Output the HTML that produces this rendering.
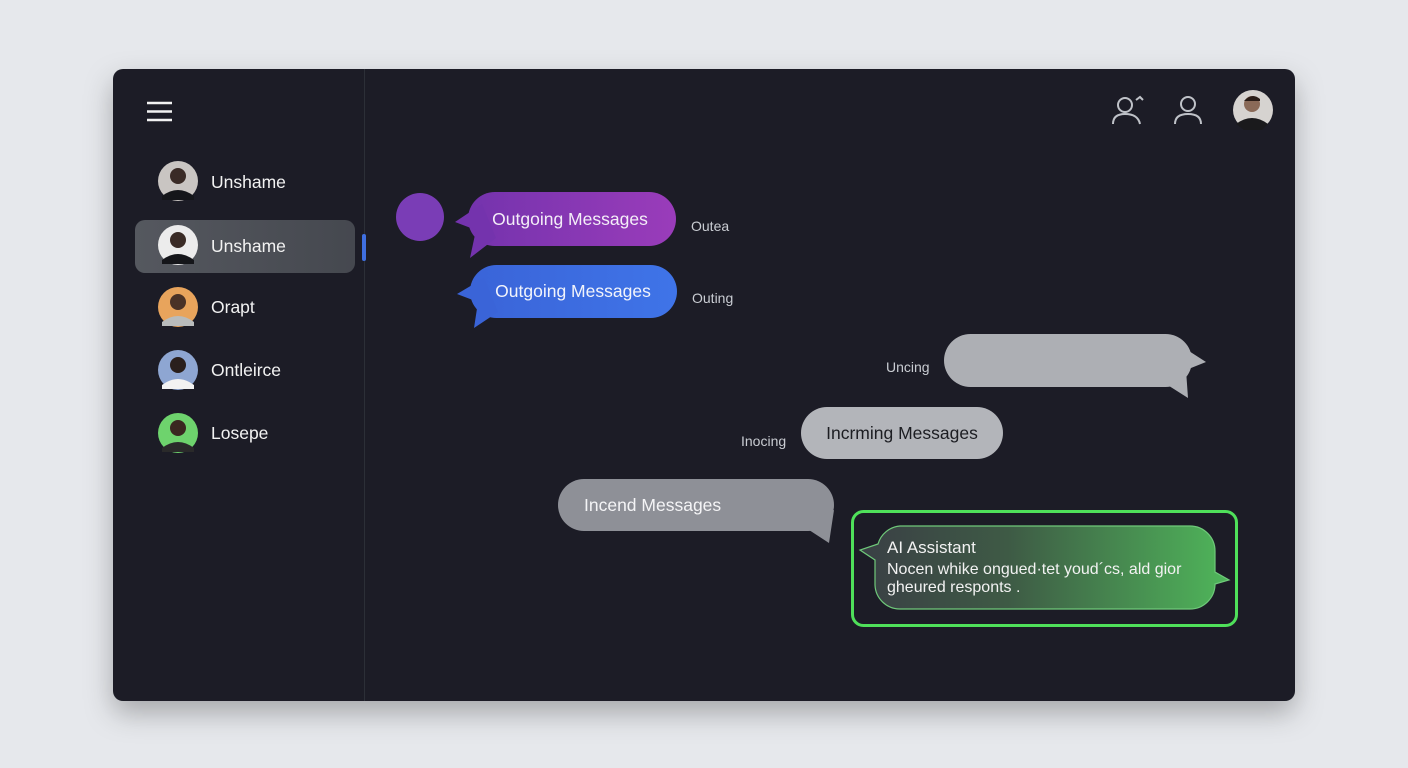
<!DOCTYPE html>
<html><head><meta charset="utf-8"><style>
html,body{margin:0;padding:0;width:1408px;height:768px;overflow:hidden;background:#e6e8ec;}
svg{display:block}
text{font-family:"Liberation Sans",sans-serif;}
</style></head><body>
<svg width="1408" height="768" viewBox="0 0 1408 768" xmlns="http://www.w3.org/2000/svg">
<defs>
<filter id="sh" x="-10%" y="-10%" width="120%" height="130%"><feDropShadow dx="0" dy="12" stdDeviation="14" flood-color="#000" flood-opacity="0.28"/></filter>
<linearGradient id="pg" x1="0" x2="1"><stop offset="0" stop-color="#7433ad"/><stop offset="1" stop-color="#9a3cba"/></linearGradient>
<linearGradient id="bg" x1="0" x2="1"><stop offset="0" stop-color="#3a64d8"/><stop offset="1" stop-color="#3f74e8"/></linearGradient>
<linearGradient id="gg" x1="0" x2="1"><stop offset="0" stop-color="#3a3f45"/><stop offset="0.4" stop-color="#3e5a45"/><stop offset="1" stop-color="#4fb65a"/></linearGradient>
<linearGradient id="side" x1="0" x2="1"><stop offset="0" stop-color="#55585f"/><stop offset="1" stop-color="#45484f"/></linearGradient>
</defs>
<rect x="113" y="69" width="1182" height="632" rx="10" fill="#1c1f27" filter="url(#sh)"/>
<line x1="364.5" y1="69" x2="364.5" y2="701" stroke="#2c2f37" stroke-width="1"/>
<g stroke="#f2f2f2" stroke-width="2.5"><line x1="147" y1="103" x2="172" y2="103"/><line x1="147" y1="111.5" x2="172" y2="111.5"/><line x1="147" y1="120" x2="172" y2="120"/></g>
<rect x="135" y="220" width="220" height="53" rx="10" fill="url(#side)"/>
<rect x="362" y="234" width="4" height="27" rx="2" fill="#3f6fe0"/>
<g>
<circle cx="178" cy="181" r="20" fill="#c9c5c2"/><circle cx="178" cy="176" r="8" fill="#3a2b26"/><path d="M162 196 Q178 184 194 196 L194 200 L162 200Z" fill="#15161a"/>
<circle cx="178" cy="245" r="20" fill="#ececec"/><circle cx="178" cy="240" r="8" fill="#3a2b26"/><path d="M162 260 Q178 248 194 260 L194 264 L162 264Z" fill="#15161a"/>
<circle cx="178" cy="307" r="20" fill="#e8a45c"/><circle cx="178" cy="302" r="8" fill="#4a3226"/><path d="M162 322 Q178 310 194 322 L194 326 L162 326Z" fill="#b9bcbc"/>
<circle cx="178" cy="370" r="20" fill="#8ea6d2"/><circle cx="178" cy="365" r="8" fill="#2a1f1c"/><path d="M162 385 Q178 373 194 385 L194 389 L162 389Z" fill="#f2f2f2"/>
<circle cx="178" cy="433" r="20" fill="#6ed36d"/><circle cx="178" cy="428" r="8" fill="#3a2820"/><path d="M162 448 Q178 436 194 448 L194 452 L162 452Z" fill="#2a2a2a"/>
</g>
<g fill="#f2f2f2" font-size="17.5">
<text x="211" y="188">Unshame</text><text x="211" y="252">Unshame</text><text x="211" y="313">Orapt</text><text x="211" y="376">Ontleirce</text><text x="211" y="439">Losepe</text>
</g>
<g fill="none" stroke="#bfc2c8" stroke-width="2">
<circle cx="1125" cy="105" r="7"/><path d="M1113 124 Q1113 114 1125 114 Q1138 114 1140 124"/><path d="M1136 100 l4 -3 l3 3"/>
<circle cx="1188" cy="104" r="7"/><path d="M1175 124 Q1175 114 1188 114 Q1201 114 1201 124"/>
</g>
<circle cx="1253" cy="110" r="20" fill="#d6d3d0"/><circle cx="1252" cy="104" r="8" fill="#8a6a58"/><path d="M1244 101 Q1252 92 1260 99 L1260 101Z" fill="#2a1d18"/><path d="M1236 124 Q1252 112 1268 124 L1262 130 L1244 130Z" fill="#1a1a1c"/>
<!-- purple -->
<circle cx="420" cy="217" r="24" fill="#7a3db6"/>
<rect x="468" y="192" width="208" height="54" rx="27" fill="url(#pg)"/>
<polygon points="482,204 455,222 476,230 470,258 496,238" fill="#7433ad"/>
<text x="570" y="225" fill="#f4eef8" font-size="17.5" text-anchor="middle">Outgoing Messages</text>
<text x="691" y="231" fill="#c9ccd2" font-size="14">Outea</text>
<!-- blue -->
<rect x="470" y="265" width="207" height="53" rx="26.5" fill="url(#bg)"/>
<polygon points="484,278 457,294 478,302 474,328 498,312" fill="#3a64d8"/>
<text x="573" y="297" fill="#f2f4fb" font-size="17.5" text-anchor="middle">Outgoing Messages</text>
<text x="692" y="303" fill="#c9ccd2" font-size="14">Outing</text>
<!-- gray top right -->
<rect x="944" y="334" width="248" height="53" rx="26.5" fill="#adafb4"/>
<polygon points="1178,344 1206,362 1186,370 1188,398 1166,384" fill="#adafb4"/>
<text x="886" y="372" fill="#c9ccd2" font-size="14">Uncing</text>
<!-- incoming -->
<rect x="801" y="407" width="202" height="52" rx="26" fill="#b3b5ba"/>
<text x="902" y="439" fill="#1c1d22" font-size="17.5" text-anchor="middle">Incrming Messages</text>
<text x="741" y="446" fill="#c9ccd2" font-size="14">Inocing</text>
<!-- incend -->
<rect x="558" y="479" width="276" height="52" rx="26" fill="#8e9097"/>
<polygon points="816,518 834,510 829,543 806,528" fill="#8e9097"/>
<text x="584" y="511" fill="#f4f4f6" font-size="17.5">Incend Messages</text>
<!-- AI -->
<rect x="852.5" y="511.5" width="384" height="114" rx="11" fill="none" stroke="#4fe05a" stroke-width="3"/>
<path d="M900 526 H1190 A25 25 0 0 1 1215 551 V572 L1229 580 L1215 584 V585 A25 25 0 0 1 1190 609 H900 A25 25 0 0 1 875 585 V560 L860 550 L878 544 A25 25 0 0 1 900 526Z" fill="url(#gg)" stroke="#6fc97a" stroke-width="1.2"/>
<text x="887" y="553" fill="#f2f2f2" font-size="17">AI Assistant</text>
<text x="887" y="574" fill="#f2f2f2" font-size="16">Nocen whike ongued·tet youd´cs, ald gior</text>
<text x="887" y="592" fill="#f2f2f2" font-size="16">gheured responts .</text>
</svg>
</body></html>
